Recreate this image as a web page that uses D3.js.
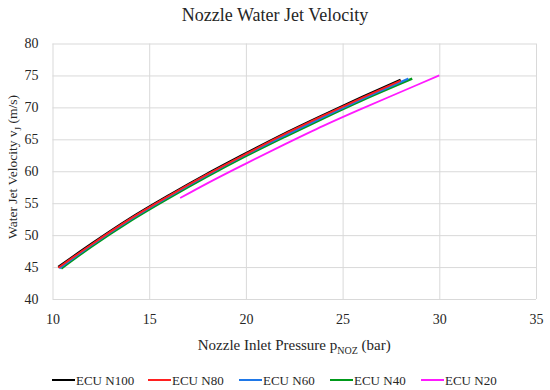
<!DOCTYPE html>
<html>
<head>
<meta charset="utf-8">
<script src="https://cdn.jsdelivr.net/npm/d3@7"></script>
<style>
  body { margin: 0; background: #fff; overflow: hidden; }
</style>
</head>
<body>
<div id="chart"></div>
<script>
// Values
const pressureMain = [10.3, 12, 14, 16, 18, 20, 22, 24, 26, 28]
const velN100 = [45.0, 48.6, 52.6, 56.2, 59.6, 62.8, 65.9, 68.8, 71.6, 74.3]
const velN80 = [44.9, 48.5, 52.5, 56.1, 59.5, 62.7, 65.8, 68.7, 71.5, 74.2]
const pressureN60 = [10.35, 12, 14, 16, 18, 20, 22, 24, 26, 28.4]
const velN60 = [44.8, 48.4, 52.4, 56.0, 59.4, 62.6, 65.6, 68.5, 71.3, 74.5]
const pressureN40 = [10.45, 12, 14, 16, 18, 20, 22, 24, 26, 28.6]
const velN40 = [44.8, 48.2, 52.2, 55.8, 59.2, 62.4, 65.4, 68.3, 71.1, 74.5]
const pressureN20 = [16.6, 18, 20, 22, 24, 26, 28, 30]
const velN20 = [55.8, 58.1, 61.2, 64.2, 67.1, 69.8, 72.4, 75.0]

const seriesNames = ['ECU N100', 'ECU N80', 'ECU N60', 'ECU N40', 'ECU N20']
const seriesColors = ['#000000', '#ff2020', '#1f78e8', '#009a1a', '#ff1aff']
const xTicks = [10, 15, 20, 25, 30, 35]
const yTicks = [40, 45, 50, 55, 60, 65, 70, 75, 80]

// drawing order: black under, red on top of the main bundle
const series = [
  { color: seriesColors[0], x: pressureMain, y: velN100, w: 2.4 },
  { color: seriesColors[3], x: pressureN40, y: velN40, w: 2.6 },
  { color: seriesColors[2], x: pressureN60, y: velN60, w: 2.2 },
  { color: seriesColors[1], x: pressureMain, y: velN80, w: 2 },
  { color: seriesColors[4], x: pressureN20, y: velN20, w: 1.8 }
]

const FONT = '"Liberation Serif", "Times New Roman", serif'
const width = 550
const height = 390
const margin = { top: 43.5, right: 14, bottom: 91, left: 52.5 }
const innerWidth = width - margin.left - margin.right
const innerHeight = height - margin.top - margin.bottom

const svg = d3.select('#chart').append('svg')
  .attr('width', width)
  .attr('height', height)
  .attr('font-family', FONT)
  .style('display', 'block')

const g = svg.append('g')
  .attr('transform', `translate(${margin.left},${margin.top})`)

const x = d3.scaleLinear().domain([10, 35]).range([0, innerWidth])
const y = d3.scaleLinear().domain([40, 80]).range([innerHeight, 0])

// --- GRIDLINES (no labels) ---
const yGrid = g.append('g')
  .call(d3.axisLeft(y).tickValues(yTicks).tickSize(-innerWidth).tickFormat(''))
yGrid.select('.domain').remove()
yGrid.selectAll('text').remove()
yGrid.selectAll('line').attr('stroke', '#d9d9d9')

const xGrid = g.append('g')
  .attr('transform', `translate(0,${innerHeight})`)
  .call(d3.axisBottom(x).tickValues(xTicks).tickSize(-innerHeight).tickFormat(''))
xGrid.select('.domain').remove()
xGrid.selectAll('text').remove()
xGrid.selectAll('line').attr('stroke', '#d9d9d9')

// --- TICK LABELS ---
const yAxis = g.append('g')
  .call(d3.axisLeft(y).tickValues(yTicks).tickSize(0).tickPadding(14))
  .attr('font-family', FONT)
  .attr('font-size', 14)
yAxis.select('.domain').remove()
yAxis.selectAll('line').remove()
yAxis.selectAll('text').attr('fill', '#262626')

const xAxis = g.append('g')
  .attr('transform', `translate(0,${innerHeight})`)
  .call(d3.axisBottom(x).tickValues(xTicks).tickSize(0).tickPadding(15))
  .attr('font-family', FONT)
  .attr('font-size', 14)
xAxis.select('.domain').remove()
xAxis.selectAll('line').remove()
xAxis.selectAll('text').attr('fill', '#262626')

// --- LINES ---
const line = d3.line()
  .x(d => x(d[0]))
  .y(d => y(d[1]))
  .curve(d3.curveMonotoneX)

series.forEach(s => {
  g.append('path')
    .datum(s.x.map((p, i) => [p, s.y[i]]))
    .attr('fill', 'none')
    .attr('stroke', s.color)
    .attr('stroke-width', s.w)
    .attr('d', line)
})

// --- TITLES ---
svg.append('text')
  .attr('x', width / 2)
  .attr('y', 21)
  .attr('text-anchor', 'middle')
  .attr('fill', '#262626')
  .attr('font-size', 18)
  .text('Nozzle Water Jet Velocity')

const xTitle = svg.append('text')
  .attr('x', margin.left + innerWidth / 2)
  .attr('y', 350)
  .attr('text-anchor', 'middle')
  .attr('fill', '#262626')
  .attr('font-size', 15)
xTitle.append('tspan').text('Nozzle Inlet Pressure p')
xTitle.append('tspan').attr('dy', 4).attr('font-size', 10).text('NOZ')
xTitle.append('tspan').attr('dy', -4).text(' (bar)')

const yTitle = svg.append('text')
  .attr('transform', 'translate(17,167) rotate(-90)')
  .attr('text-anchor', 'middle')
  .attr('fill', '#262626')
  .attr('font-size', 13.5)
yTitle.append('tspan').text('Water Jet Velocity v')
yTitle.append('tspan').attr('dy', 4).attr('font-size', 9).text('J')
yTitle.append('tspan').attr('dy', -4).text(' (m/s)')

// --- LEGEND ---
const legendX = [52, 148, 239, 330, 421]
const legend = svg.append('g').attr('transform', 'translate(0,380)')
seriesNames.forEach((name, i) => {
  const item = legend.append('g').attr('transform', `translate(${legendX[i]},0)`)
  item.append('line')
    .attr('x1', 0).attr('x2', 23)
    .attr('stroke', seriesColors[i])
    .attr('stroke-width', 2)
  item.append('text')
    .attr('x', 24)
    .attr('dy', '0.35em')
    .attr('fill', '#262626')
    .attr('font-size', 13)
    .text(name)
})
</script>
</body>
</html>
